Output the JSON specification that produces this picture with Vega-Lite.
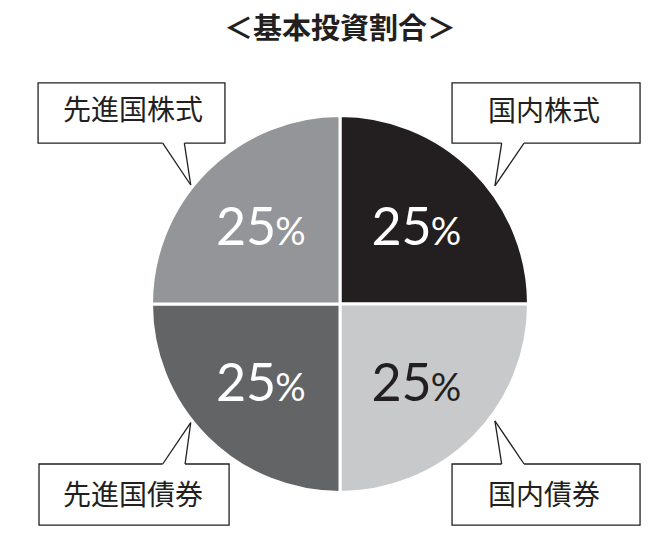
{
  "$schema": "https://vega.github.io/schema/vega-lite/v6.json",
  "width": 660,
  "height": 510,
  "autosize": "none",
  "padding": {"left": 0, "top": 50, "right": 0, "bottom": 0},
  "background": "white",
  "title": {
    "text": "＜基本投資割合＞",
    "font": "Noto Sans CJK JP",
    "fontSize": 29,
    "fontWeight": "bold",
    "color": "#231f20",
    "anchor": "middle",
    "frame": "group",
    "dx": 10,
    "offset": 5
  },
  "datasets": {
    "shares": [
      {"asset": "国内株式", "pct": 25, "rank": 1},
      {"asset": "国内債券", "pct": 25, "rank": 2},
      {"asset": "先進国債券", "pct": 25, "rank": 3},
      {"asset": "先進国株式", "pct": 25, "rank": 4}
    ],
    "callouts": [
      {"asset": "先進国株式", "x1": -160.6, "x2": -61.2, "y1": 117.6, "y2": 85.6, "edge": 85.6, "baseA": -94.3, "baseB": -82.8, "tipX": -79.4, "tipY": 63.3, "cx": -110.1, "cy": 101.9},
      {"asset": "国内株式", "x1": 59.6, "x2": 159.6, "y1": 117.6, "y2": 85.6, "edge": 85.6, "baseA": 86.0, "baseB": 97.9, "tipX": 82.4, "tipY": 62.8, "cx": 108.5, "cy": 101.6},
      {"asset": "先進国債券", "x1": -160.1, "x2": -59.0, "y1": -85.1, "y2": -117.6, "edge": -85.1, "baseA": -94.3, "baseB": -82.4, "tipX": -79.4, "tipY": -63.1, "cx": -110.1, "cy": -102.9},
      {"asset": "国内債券", "x1": 59.6, "x2": 159.6, "y1": -85.1, "y2": -117.6, "edge": -85.1, "baseA": 86.0, "baseB": 97.9, "tipX": 82.4, "tipY": -62.2, "cx": 108.5, "cy": -102.9}
    ]
  },
  "layer": [
    {
      "data": {"name": "shares"},
      "mark": {"type": "arc", "radius": 188.5, "stroke": "white", "strokeWidth": 3},
      "encoding": {
        "x": {"datum": 0, "type": "quantitative", "scale": {"domain": [-180.85, 170.21], "nice": false, "zero": false}, "axis": null},
        "y": {"datum": 0, "type": "quantitative", "scale": {"domain": [-136.17, 135.11], "nice": false, "zero": false}, "axis": null},
        "theta": {"field": "pct", "type": "quantitative", "stack": true},
        "order": {"field": "rank", "type": "quantitative"},
        "color": {"field": "asset", "type": "nominal", "legend": null, "scale": {"domain": ["国内株式", "国内債券", "先進国債券", "先進国株式"], "range": ["#231f20", "#c8c9cb", "#636466", "#939598"]}}
      }
    },
    {
      "data": {"name": "shares"},
      "mark": {"type": "text", "radius": 110, "font": "Lato", "fontWeight": 400, "fontSize": 52, "align": "right", "baseline": "alphabetic", "dx": 14, "dy": 19},
      "encoding": {
        "x": {"datum": 0, "type": "quantitative", "axis": null},
        "y": {"datum": 0, "type": "quantitative", "axis": null},
        "theta": {"field": "pct", "type": "quantitative", "stack": true},
        "order": {"field": "rank", "type": "quantitative"},
        "detail": {"field": "asset", "type": "nominal"},
        "text": {"field": "pct", "type": "quantitative"},
        "color": {"condition": {"test": "datum.asset === '国内債券'", "value": "#231f20"}, "value": "white"}
      }
    },
    {
      "data": {"name": "shares"},
      "mark": {"type": "text", "radius": 110, "font": "Lato", "fontWeight": 400, "fontSize": 38, "align": "left", "baseline": "alphabetic", "dx": 13, "dy": 19, "text": "%"},
      "encoding": {
        "x": {"datum": 0, "type": "quantitative", "axis": null},
        "y": {"datum": 0, "type": "quantitative", "axis": null},
        "theta": {"field": "pct", "type": "quantitative", "stack": true},
        "order": {"field": "rank", "type": "quantitative"},
        "detail": {"field": "asset", "type": "nominal"},
        "color": {"condition": {"test": "datum.asset === '国内債券'", "value": "#231f20"}, "value": "white"}
      }
    },
    {
      "data": {"name": "callouts"},
      "mark": {"type": "rect", "fill": "white", "stroke": "#231f20", "strokeWidth": 1.3},
      "encoding": {
        "x": {"field": "x1", "type": "quantitative", "axis": null},
        "x2": {"field": "x2"},
        "y": {"field": "y1", "type": "quantitative", "axis": null},
        "y2": {"field": "y2"}
      }
    },
    {
      "data": {"name": "callouts"},
      "mark": {"type": "rule", "stroke": "white", "strokeWidth": 3},
      "encoding": {
        "x": {"field": "baseA", "type": "quantitative", "axis": null},
        "x2": {"field": "baseB"},
        "y": {"field": "edge", "type": "quantitative", "axis": null}
      }
    },
    {
      "data": {"name": "callouts"},
      "mark": {"type": "rule", "stroke": "#231f20", "strokeWidth": 1.3},
      "encoding": {
        "x": {"field": "baseA", "type": "quantitative", "axis": null},
        "y": {"field": "edge", "type": "quantitative", "axis": null},
        "x2": {"field": "tipX"},
        "y2": {"field": "tipY"}
      }
    },
    {
      "data": {"name": "callouts"},
      "mark": {"type": "rule", "stroke": "#231f20", "strokeWidth": 1.3},
      "encoding": {
        "x": {"field": "baseB", "type": "quantitative", "axis": null},
        "y": {"field": "edge", "type": "quantitative", "axis": null},
        "x2": {"field": "tipX"},
        "y2": {"field": "tipY"}
      }
    },
    {
      "data": {"name": "callouts"},
      "mark": {"type": "text", "font": "Noto Sans CJK JP", "fontSize": 28, "color": "#231f20", "baseline": "middle", "align": "center"},
      "encoding": {
        "x": {"field": "cx", "type": "quantitative", "axis": null},
        "y": {"field": "cy", "type": "quantitative", "axis": null},
        "text": {"field": "asset"}
      }
    }
  ],
  "config": {"view": {"stroke": null}}
}
